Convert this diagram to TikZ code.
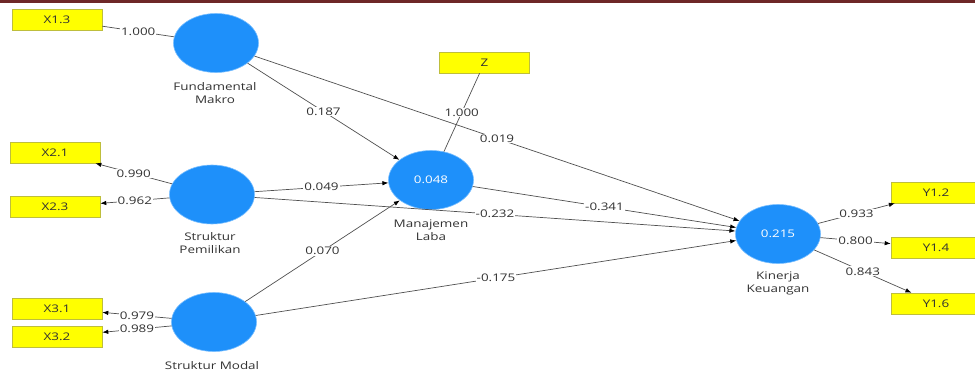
\documentclass[tikz,border=0pt]{standalone}
\usepackage{fontspec}
\usetikzlibrary{arrows.meta,shapes.geometric}
\newfontfamily\plsfont[FakeStretch=1.28]{Open Sans}
\definecolor{lvblue}{RGB}{30,144,250}
\definecolor{lvrim}{RGB}{120,190,255}
\definecolor{indyel}{RGB}{255,255,0}
\definecolor{indrim}{RGB}{190,190,60}
\definecolor{edgegray}{RGB}{80,80,80}
\definecolor{txtgray}{RGB}{50,50,50}
\definecolor{bandred}{RGB}{110,40,40}
\begin{document}
\begin{tikzpicture}[x=1pt,y=-1pt,
  font=\plsfont\fontsize{10.5}{13}\selectfont,
  lv/.style={ellipse, fill=lvblue, draw=lvrim, line width=0.6pt, minimum width=85pt, minimum height=59pt, inner sep=0pt, text=white},
  ind/.style={rectangle, fill=indyel, draw=indrim, line width=0.6pt, minimum width=90pt, minimum height=21pt, inner sep=0pt, text=txtgray},
  lvcap/.style={align=center, text=txtgray, inner sep=0pt},
  pathedge/.style={draw=edgegray, line width=0.7pt, -{Latex[length=6pt,width=4.5pt,color=black]}},
  lnk/.style={draw=edgegray, line width=0.7pt},
  lbl/.style={midway, fill=white, inner sep=1pt, text=txtgray}
]
\useasboundingbox (0,0) rectangle (975,372);
\clip (0,0) rectangle (975,372);
\fill[bandred] (0,0) rectangle (975,3);

% indicators
\node[ind] (X13) at (57,19.5) {X1.3};
\node[ind] (X21) at (55,152.5) {X2.1};
\node[ind] (X23) at (55,207) {X2.3};
\node[ind] (X31) at (57,308.5) {X3.1};
\node[ind] (X32) at (57,336.5) {X3.2};
\node[ind] (Z) at (484.5,62.5) {Z};
\node[ind] (Y12) at (936,192.5) {Y1.2};
\node[ind] (Y14) at (936,247.5) {Y1.4};
\node[ind] (Y16) at (936,303.5) {Y1.6};

% latent variables
\node[lv] (FM) at (216,43) {};
\node[lv] (SP) at (212,194.5) {};
\node[lv] (SM) at (214,322) {};
\node[lv] (ML) at (431,180) {0.048};
\node[lv] (KK) at (778,234) {0.215};

% captions
\node[lvcap] (cFM) at (215,93.5) {Fundamental\\Makro};
\node[lvcap] (cSP) at (210,243.5) {Struktur\\Pemilikan};
\node[lvcap] (cSM) at (212,366) {Struktur Modal};
\node[lvcap] (cML) at (431,230) {Manajemen\\Laba};
\node[lvcap] (cKK) at (778,283.5) {Kinerja\\Keuangan};

% structural paths
\draw[pathedge] (FM) -- node[lbl]{0.187} (ML);
\draw[pathedge] (FM) -- node[lbl]{0.019} (KK);
\draw[pathedge] (SP) -- node[lbl]{0.049} (ML);
\draw[pathedge] (SP) -- node[lbl]{-0.232} (KK);
\draw[pathedge] (SM) -- node[lbl]{0.070} (ML);
\draw[pathedge] (SM) -- node[lbl]{-0.175} (KK);
\draw[pathedge] (ML) -- node[lbl]{-0.341} (KK);

% outer loadings
\draw[lnk] (FM) -- node[lbl]{1.000} (X13);
\draw[pathedge] (SP) -- node[lbl]{0.990} (X21);
\draw[pathedge] (SP) -- node[lbl]{0.962} (X23);
\draw[pathedge] (SM) -- node[lbl]{0.979} (X31);
\draw[pathedge] (SM) -- node[lbl]{0.989} (X32);
\draw[lnk] (ML) -- node[lbl]{1.000} (Z);
\draw[pathedge] (KK) -- node[lbl]{0.933} (Y12);
\draw[pathedge] (KK) -- node[lbl]{0.800} (Y14);
\draw[pathedge] (KK) -- node[lbl]{0.843} (Y16);
\end{tikzpicture}
\end{document}
